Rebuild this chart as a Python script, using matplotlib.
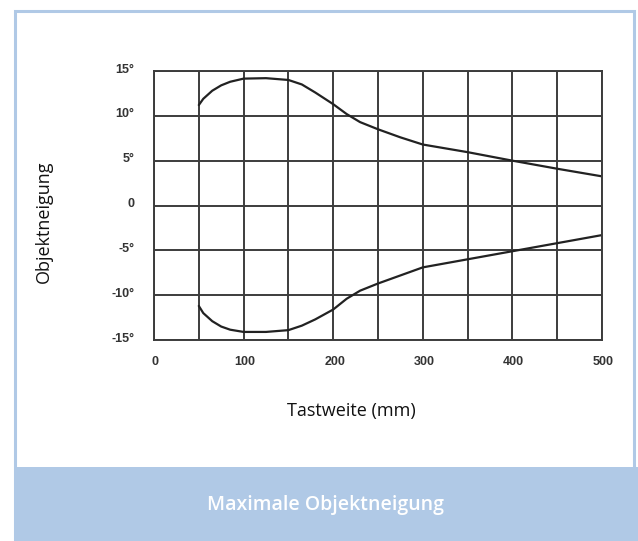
import numpy as np
import matplotlib
matplotlib.use("Agg")
import matplotlib.pyplot as plt
from matplotlib.patches import Rectangle

# Tastweite (mm) and max. Objektneigung (deg)
distance = [50, 55, 65, 75, 85, 100, 125, 150, 165, 180, 200, 215, 230, 250, 275, 300, 350, 400, 450, 500]
upper = [11.2, 11.9, 12.8, 13.4, 13.8, 14.15, 14.2, 14.0, 13.5, 12.6, 11.3, 10.2, 9.3, 8.5, 7.6, 6.8, 5.95, 5.0, 4.1, 3.25]
lower = [-11.2, -12.0, -12.9, -13.5, -13.85, -14.1, -14.1, -13.9, -13.4, -12.7, -11.6, -10.4, -9.5, -8.7, -7.8, -6.9, -6.0, -5.1, -4.2, -3.3]

x_ticks = [0, 100, 200, 300, 400, 500]
x_labels = ["0", "100", "200", "300", "400", "500"]
y_ticks = [15, 10, 5, 0, -5, -10, -15]
y_labels = ["15°", "10°", "5°", "0", "-5°", "-10°", "-15°"]

W, H = 638, 541
frame_col = "#b0c9e6"

fig = plt.figure(figsize=(W / 100, H / 100), dpi=100)
fig.patch.set_facecolor("white")

# outer frame and bottom caption band
fig.patches.append(Rectangle((15 / W, 0), (634 - 15) / W, (H - 11) / H,
                             transform=fig.transFigure, fill=False,
                             edgecolor=frame_col, linewidth=2.2))
fig.patches.append(Rectangle((14 / W, 0), (638 - 14) / W, (H - 467) / H,
                             transform=fig.transFigure, facecolor=frame_col,
                             edgecolor="none"))
fig.text(325 / W, 1 - 505 / H, "Maximale Objektneigung", color="white",
         fontsize=14, fontweight="semibold", family="Open Sans",
         ha="center", va="center")

ax = fig.add_axes([154 / W, 1 - 340 / H, (602 - 154) / W, (340 - 71) / H])
ax.plot(distance, upper, color="#222222", linewidth=1.6, solid_capstyle="round")
ax.plot(distance, lower, color="#222222", linewidth=1.6, solid_capstyle="round")

ax.set_xlim(0, 500)
ax.set_ylim(-15, 15)
ax.set_xticks(np.arange(0, 501, 50))
ax.set_yticks(np.arange(-15, 16, 5))
ax.grid(True, color="#3c3c3c", linewidth=1.4)
ax.tick_params(length=0, labelbottom=False, labelleft=False)
for s in ax.spines.values():
    s.set_color("#3c3c3c")
    s.set_linewidth(1.4)

for xv, lab in zip(x_ticks, x_labels):
    ax.annotate(lab, (xv, -15), xytext=(1, -16), textcoords="offset points",
                ha="center", va="center", fontsize=9, fontweight="bold",
                color="#333333", family=["Liberation Sans Narrow", "Liberation Sans"])
for yv, lab in zip(y_ticks, y_labels):
    ax.annotate(lab, (0, yv), xytext=(-14, 1), textcoords="offset points",
                ha="right", va="center", fontsize=9, fontweight="bold",
                color="#333333", family=["Liberation Sans Narrow", "Liberation Sans"])

fig.text(351 / W, 1 - 411 / H, "Tastweite (mm)", fontsize=13,
         family="Open Sans", ha="center", va="center", color="#111111")
fig.text(44 / W, 1 - 222 / H, "Objektneigung", fontsize=13, rotation=90,
         family="Open Sans", ha="center", va="center", color="#111111")

fig.savefig("out.png", dpi=100)
